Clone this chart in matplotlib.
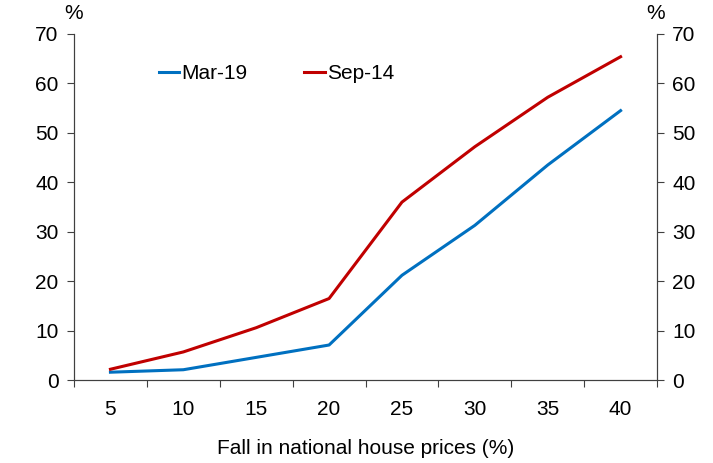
import matplotlib
matplotlib.use('Agg')
from matplotlib import pyplot as plt

plt.rcParams['font.family'] = ['Liberation Sans', 'DejaVu Sans']

falls = ['5', '10', '15', '20', '25', '30', '35', '40']
mar19 = [1.6, 2.1, 4.6, 7.1, 21.2, 31.3, 43.5, 54.5]
sep14 = [2.2, 5.7, 10.6, 16.5, 36.0, 47.2, 57.2, 65.4]

axis_col = '#404040'
fs = 15

fig = plt.figure(figsize=(7.13, 4.63), dpi=100)
ax = fig.add_axes([0.1038, 0.179, 0.8177, 0.7476])
x = list(range(len(falls)))
ax.plot(x, mar19, color='#0070C0', lw=2.2, label='Mar-19')
ax.plot(x, sep14, color='#C00000', lw=2.2, label='Sep-14')

ax.set_xlim(-0.5, len(falls) - 0.5)
ax.set_ylim(0, 70)
ax.set_yticks(range(0, 71, 10))
ax.set_xticks([i - 0.5 for i in range(len(falls) + 1)], minor=False)
ax.set_xticklabels([])
ax.set_xticks(x, minor=True)
ax.set_xticklabels(falls, minor=True)
ax.tick_params(axis='x', which='minor', length=0, pad=14, labelsize=fs)
ax.tick_params(axis='x', which='major', length=5, color=axis_col, direction='out')
ax.tick_params(axis='y', length=5, color=axis_col, labelsize=fs, pad=6)
ax.set_xlabel('Fall in national house prices (%)', fontsize=fs, labelpad=15)

ax2 = ax.twinx()
ax2.set_ylim(0, 70)
ax2.set_yticks(range(0, 71, 10))
ax2.tick_params(axis='y', length=5, color=axis_col, labelsize=fs, pad=6)

for a in (ax, ax2):
    a.spines['top'].set_visible(False)
    for s in ('left', 'right', 'bottom'):
        a.spines[s].set_color(axis_col)

fig.text(0.103, 0.95, '%', ha='center', va='bottom', fontsize=fs)
fig.text(0.920, 0.95, '%', ha='center', va='bottom', fontsize=fs)

ax.legend(loc='upper left', bbox_to_anchor=(0.113, 0.967), ncol=2, frameon=False,
          fontsize=fs, handlelength=1.0, handletextpad=0.1, columnspacing=2.7)

fig.savefig('out.png', dpi=100)
